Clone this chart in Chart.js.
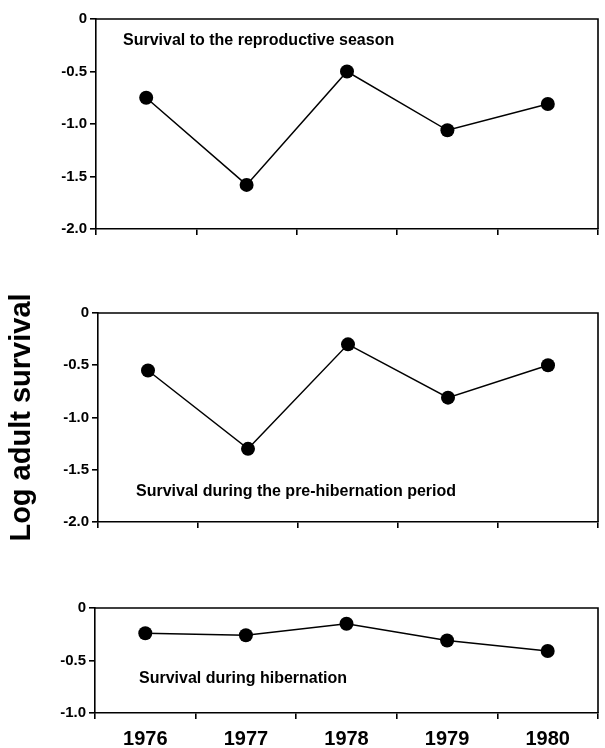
<!DOCTYPE html>
<html>
<head>
<meta charset="utf-8">
<script src="https://cdn.jsdelivr.net/npm/chart.js@4/dist/chart.umd.min.js"></script>
<style>
  html, body { margin: 0; padding: 0; background: #fff; }
  body { width: 605px; height: 748px; position: relative; overflow: hidden; }
  .panel { position: absolute; left: 0; width: 605px; }
  canvas { display: block; }
</style>
</head>
<body>
<div class="panel" style="top:0px;height:250px"><canvas id="c1" width="605" height="250"></canvas></div>
<div class="panel" style="top:280px;height:260px"><canvas id="c2" width="605" height="260"></canvas></div>
<div class="panel" style="top:580px;height:168px"><canvas id="c3" width="605" height="168"></canvas></div>
<script>
// ---- Data ----
const years = ['1976', '1977', '1978', '1979', '1980'];
const survivalReproductive = [-0.75, -1.58, -0.50, -1.06, -0.81];
const survivalPreHibernation = [-0.55, -1.30, -0.30, -0.81, -0.50];
const survivalHibernation = [-0.24, -0.26, -0.15, -0.31, -0.41];
const panelTitles = [
  'Survival to the reproductive season',
  'Survival during the pre-hibernation period',
  'Survival during hibernation'
];
const yAxisTitle = 'Log adult survival';
const yRangeTall = [-2.0, 0];
const yRangeShort = [-1.0, 0];
const yStep = 0.5;

const FONT = '"Liberation Sans", Arial, Helvetica, sans-serif';

// Frame (top and right edge) and in-panel label
const framePlugin = {
  id: 'frameAndLabel',
  afterDraw(chart, args, opts) {
    const a = chart.chartArea;
    const ctx = chart.ctx;
    ctx.save();
    ctx.strokeStyle = '#000';
    ctx.lineWidth = 1.6;
    ctx.beginPath();
    ctx.moveTo(a.left, a.top);
    ctx.lineTo(a.right, a.top);
    ctx.lineTo(a.right, a.bottom);
    ctx.stroke();
    if (opts.text) {
      ctx.fillStyle = '#000';
      ctx.font = 'bold 16px ' + FONT;
      ctx.textBaseline = 'alphabetic';
      ctx.textAlign = 'left';
      ctx.fillText(opts.text, a.left + opts.dx, a.top + opts.dy);
    }
    ctx.restore();
  }
};

function makePanel(id, values, range, area, cfg) {
  const canvas = document.getElementById(id);
  const H = canvas.height, W = canvas.width;
  return new Chart(canvas, {
    type: 'line',
    data: {
      labels: years,
      datasets: [{
        data: values,
        borderColor: '#000',
        borderWidth: 1.5,
        backgroundColor: '#000',
        pointBackgroundColor: '#000',
        pointBorderColor: '#000',
        pointRadius: 7,
        pointBorderWidth: 0,
        tension: 0,
        fill: false
      }]
    },
    options: {
      responsive: false,
      animation: false,
      devicePixelRatio: 1,
      layout: { padding: { top: area.top, right: W - area.right, left: 0, bottom: 0 } },
      plugins: {
        legend: { display: false },
        tooltip: { enabled: false },
        frameAndLabel: { text: cfg.label, dx: cfg.dx, dy: cfg.dy }
      },
      scales: {
        x: {
          type: 'category',
          offset: true,
          grid: { offset: true, drawOnChartArea: false, drawTicks: true, tickLength: 6, color: '#000', lineWidth: 1.6 },
          border: { display: true, color: '#000', width: 1.6 },
          ticks: {
            display: cfg.showYears,
            color: '#000',
            padding: 8,
            font: { family: FONT, size: 20, weight: 'bold' },
            maxRotation: 0
          },
          afterFit(scale) { scale.height = H - area.bottom; }
        },
        y: {
          min: range[0],
          max: range[1],
          grid: { drawOnChartArea: false, drawTicks: true, tickLength: 6, color: '#000', lineWidth: 1.6 },
          border: { display: true, color: '#000', width: 1.6 },
          ticks: {
            stepSize: yStep,
            color: '#000',
            padding: 3,
            font: { family: FONT, size: 15, weight: 'bold' },
            callback: (v) => (Math.abs(v) < 1e-9 ? '0' : Number(v).toFixed(1))
          },
          title: cfg.yTitle ? {
            display: true,
            text: yAxisTitle,
            color: '#000',
            padding: { top: 5, bottom: 0 },
            font: { family: FONT, size: 29, weight: 'bold' }
          } : { display: false },
          afterFit(scale) { scale.width = area.left; }
        }
      }
    },
    plugins: [framePlugin]
  });
}

makePanel('c1', survivalReproductive, yRangeTall,
  { left: 96, right: 600, top: 19, bottom: 229 },
  { label: panelTitles[0], dx: 27, dy: 26, showYears: false, yTitle: false });

makePanel('c2', survivalPreHibernation, yRangeTall,
  { left: 98, right: 601, top: 33, bottom: 242 },
  { label: panelTitles[1], dx: 38, dy: 183, showYears: false, yTitle: true });

makePanel('c3', survivalHibernation, yRangeShort,
  { left: 95, right: 599, top: 28, bottom: 133 },
  { label: panelTitles[2], dx: 44, dy: 75, showYears: true, yTitle: false });
</script>
</body>
</html>
